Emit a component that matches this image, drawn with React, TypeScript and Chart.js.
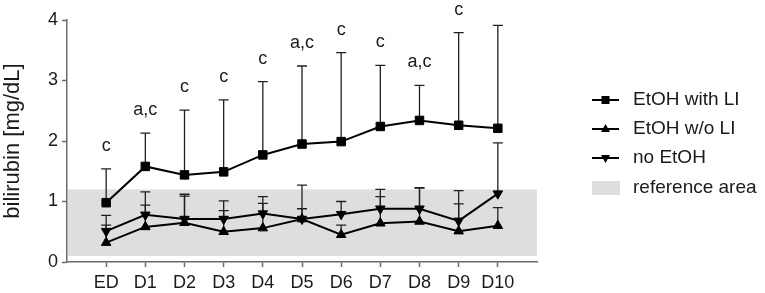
import React, { useEffect, useRef } from "react";
import { Chart, registerables } from "chart.js";

Chart.register(...registerables);

const categories = ["ED", "D1", "D2", "D3", "D4", "D5", "D6", "D7", "D8", "D9", "D10"];
const withLI = [0.98, 1.58, 1.44, 1.49, 1.77, 1.95, 1.99, 2.24, 2.34, 2.26, 2.21];
const withLIUpper = [1.54, 2.13, 2.51, 2.68, 2.98, 3.24, 3.46, 3.25, 2.92, 3.79, 3.91];
const woLI = [0.32, 0.58, 0.65, 0.5, 0.56, 0.71, 0.45, 0.64, 0.67, 0.51, 0.6];
const woLIUpper = [0.61, 0.94, 1.09, 0.85, 0.97, 1.27, 0.61, 1.08, 1.22, 0.96, 0.9];
const noEtOH = [0.51, 0.78, 0.71, 0.71, 0.8, 0.71, 0.79, 0.88, 0.88, 0.68, 1.13];
const noEtOHUpper = [0.77, 1.16, 1.12, 1.01, 1.08, 0.88, 1.0, 1.2, 1.23, 1.18, 1.97];
const significance = ["c", "a,c", "c", "c", "c", "a,c", "c", "c", "a,c", "c", ""];
const referenceRange = [0.1, 1.2];
const yTicks = [0, 1, 2, 3, 4];
const seriesNames = ["EtOH with LI", "EtOH w/o LI", "no EtOH"];
const referenceName = "reference area";

const FONT = "'Liberation Sans', Arial, Helvetica, sans-serif";
const TEXT = "#1a1a1a";
const AXIS = "#6b6b6b";
const REF_FILL = "#dedede";

const uppers = [withLIUpper, woLIUpper, noEtOHUpper];

const overlayPlugin = {
  id: "overlay",
  beforeDatasetsDraw(chart: any) {
    const { ctx, chartArea, scales } = chart;
    const xs = scales.x;
    const ys = scales.y;
    ctx.save();
    // reference area
    const yTop = ys.getPixelForValue(referenceRange[1]);
    const yBot = ys.getPixelForValue(referenceRange[0]);
    ctx.fillStyle = REF_FILL;
    ctx.fillRect(chartArea.left + 1, yTop, chartArea.right - chartArea.left - 1, yBot - yTop);
    // error bars
    ctx.strokeStyle = "#202020";
    ctx.lineWidth = 1.3;
    chart.data.datasets.forEach((ds: any, i: number) => {
      const up = uppers[i];
      ds.data.forEach((p: any, j: number) => {
        const x = xs.getPixelForValue(p.x);
        const y0 = ys.getPixelForValue(p.y);
        const y1 = ys.getPixelForValue(up[j]);
        ctx.beginPath();
        ctx.moveTo(x, y0);
        ctx.lineTo(x, y1);
        ctx.moveTo(x - 5, y1);
        ctx.lineTo(x + 5, y1);
        ctx.stroke();
      });
    });
    // significance labels
    ctx.fillStyle = TEXT;
    ctx.font = `18px ${FONT}`;
    ctx.textAlign = "center";
    ctx.textBaseline = "middle";
    significance.forEach((s, j) => {
      if (!s) return;
      const x = xs.getPixelForValue(j);
      const y = ys.getPixelForValue(withLIUpper[j]) - 23;
      ctx.fillText(s, x, y);
    });
    ctx.restore();
  },
  afterDraw(chart: any) {
    const { ctx, chartArea } = chart;
    ctx.save();
    const lx = chartArea.right + 55;
    const tx = lx + 41;
    const cy = (chartArea.top + chartArea.bottom) / 2;
    const rowY = [cy - 41, cy - 12, cy + 17, cy + 47];
    ctx.font = `19px ${FONT}`;
    ctx.textAlign = "left";
    ctx.textBaseline = "middle";
    const styles = ["rect", "triangle", "triangleDown"];
    seriesNames.forEach((name, i) => {
      const y = rowY[i];
      ctx.strokeStyle = "#000";
      ctx.lineWidth = 2;
      ctx.beginPath();
      ctx.moveTo(lx, y);
      ctx.lineTo(lx + 27, y);
      ctx.stroke();
      const mx = lx + 13.5;
      ctx.fillStyle = "#000";
      ctx.beginPath();
      if (styles[i] === "rect") {
        ctx.rect(mx - 4, y - 4, 8, 8);
      } else if (styles[i] === "triangle") {
        ctx.moveTo(mx, y - 5);
        ctx.lineTo(mx + 4.5, y + 3);
        ctx.lineTo(mx - 4.5, y + 3);
        ctx.closePath();
      } else {
        ctx.moveTo(mx, y + 5);
        ctx.lineTo(mx + 4.5, y - 3);
        ctx.lineTo(mx - 4.5, y - 3);
        ctx.closePath();
      }
      ctx.fill();
      ctx.fillStyle = TEXT;
      ctx.fillText(name, tx, y);
    });
    ctx.fillStyle = REF_FILL;
    ctx.fillRect(lx, rowY[3] - 7, 28, 14);
    ctx.fillStyle = TEXT;
    ctx.fillText(referenceName, tx, rowY[3]);
    ctx.restore();
  },
};

export default function App() {
  const ref = useRef<HTMLCanvasElement | null>(null);
  useEffect(() => {
    document.body.style.margin = "0";
    const canvas = ref.current;
    if (!canvas) return;
    const toPts = (arr: number[]) => arr.map((v, i) => ({ x: i, y: v }));
    const common = {
      borderColor: "#000",
      backgroundColor: "#000",
      borderWidth: 2,
      pointBackgroundColor: "#000",
      pointBorderColor: "#000",
      pointBorderWidth: 1,
      tension: 0,
      fill: false,
    };
    const chart = new Chart(canvas, {
      type: "line",
      data: {
        datasets: [
          { ...common, label: seriesNames[0], data: toPts(withLI), pointStyle: "rect", pointRadius: 6 },
          { ...common, label: seriesNames[1], data: toPts(woLI), pointStyle: "triangle", pointRadius: 5.5 },
          { ...common, label: seriesNames[2], data: toPts(noEtOH), pointStyle: "triangle", pointRotation: 180, pointRadius: 5.5 },
        ],
      },
      options: {
        animation: false,
        responsive: false,
        maintainAspectRatio: false,
        layout: { padding: { left: 0, top: 20, right: 228, bottom: 0 } },
        plugins: { legend: { display: false }, tooltip: { enabled: false } },
        scales: {
          x: {
            type: "linear",
            min: -1,
            max: 11,
            afterBuildTicks: (scale: any) => {
              scale.ticks = categories.map((_, i) => ({ value: i }));
            },
            afterFit: (scale: any) => {
              scale.height = 31;
            },
            ticks: {
              autoSkip: false,
              maxRotation: 0,
              padding: 5,
              color: TEXT,
              font: { family: FONT, size: 18 },
              callback: (v: any) => categories[v] ?? "",
            },
            grid: { drawOnChartArea: false, tickLength: 5, tickColor: AXIS, tickWidth: 1.5 },
            border: { color: AXIS, width: 1.5 },
          },
          y: {
            type: "linear",
            min: 0,
            max: 4,
            afterBuildTicks: (scale: any) => {
              scale.ticks = yTicks.map((v) => ({ value: v }));
            },
            afterFit: (scale: any) => {
              scale.width = 67;
            },
            ticks: {
              padding: 4,
              color: TEXT,
              font: { family: FONT, size: 18 },
            },
            grid: { drawOnChartArea: false, tickLength: 5, tickColor: AXIS, tickWidth: 1.5 },
            border: { color: AXIS, width: 1.5 },
            title: {
              display: true,
              text: "bilirubin [mg/dL]",
              color: TEXT,
              font: { family: FONT, size: 22 },
              padding: { top: 0, bottom: 0 },
            },
          },
        },
      },
      plugins: [overlayPlugin],
    } as any);
    return () => chart.destroy();
  }, []);
  return (
    <div style={{ width: 765, height: 293 }}>
      <canvas ref={ref} width={765} height={293} style={{ display: "block" }} />
    </div>
  );
}
